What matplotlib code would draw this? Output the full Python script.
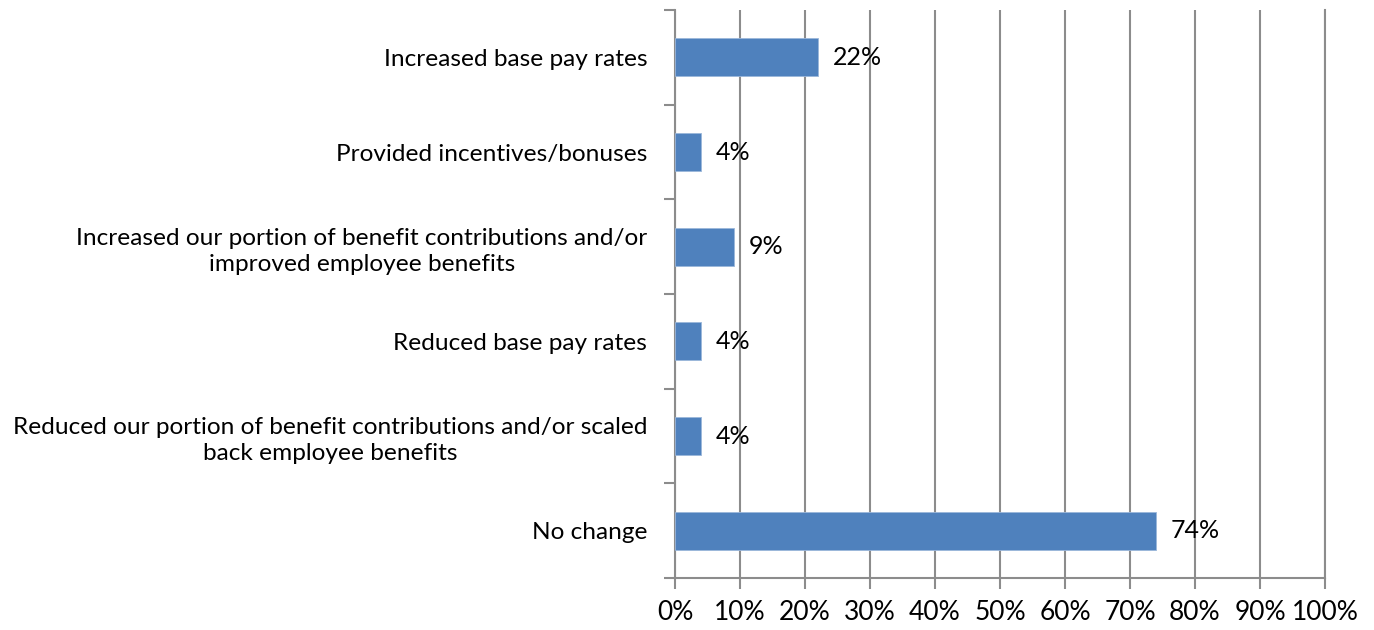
import matplotlib.pyplot as plt
from matplotlib.ticker import FixedLocator

categories = [
    "Increased base pay rates",
    "Provided incentives/bonuses",
    "Increased our portion of benefit contributions and/or\nimproved employee benefits",
    "Reduced base pay rates",
    "Reduced our portion of benefit contributions and/or scaled\nback employee benefits",
    "No change",
]
values = [22, 4, 9, 4, 4, 74]
xticks = [0, 10, 20, 30, 40, 50, 60, 70, 80, 90, 100]

BAR = "#4F81BD"
GRID = "#8C8C8C"

plt.rcParams["font.family"] = ["Lato", "DejaVu Sans"]

fig = plt.figure(figsize=(13.74, 6.3), dpi=100)
ax = fig.add_axes([0.4913, 0.0825, 0.4730, 0.9015])

y = list(range(len(categories)))
ax.barh(y, values, height=0.4, color=BAR, edgecolor="#9BB7DA", linewidth=0.6, zorder=3)
for yi, v in zip(y, values):
    ax.text(v + 2.3, yi, f"{v}%", va="center", ha="left", fontsize=18, color="black", zorder=4)

ax.set_xlim(0, 100)
ax.set_ylim(len(categories) - 0.5, -0.5)
ax.set_xticks(xticks)
ax.set_xticklabels([f"{t}%" for t in xticks], fontsize=19)

ax.set_yticks(y)
ax.set_yticklabels(categories, fontsize=17.6, multialignment="center", linespacing=1.3)
ax.yaxis.set_minor_locator(FixedLocator([i - 0.5 for i in range(len(categories) + 1)]))
ax.tick_params(axis="y", which="major", length=0, pad=20)
ax.tick_params(axis="y", which="minor", length=8, width=1.5, color=GRID, direction="out")
ax.tick_params(axis="x", length=8, width=1.5, color=GRID, pad=8)

ax.grid(axis="x", color=GRID, linewidth=1.5, zorder=0)
ax.set_axisbelow(True)
ax.spines["top"].set_visible(False)
for side in ["left", "bottom", "right"]:
    ax.spines[side].set_color(GRID)
    ax.spines[side].set_linewidth(1.5)

fig.savefig("out.png", dpi=100)
